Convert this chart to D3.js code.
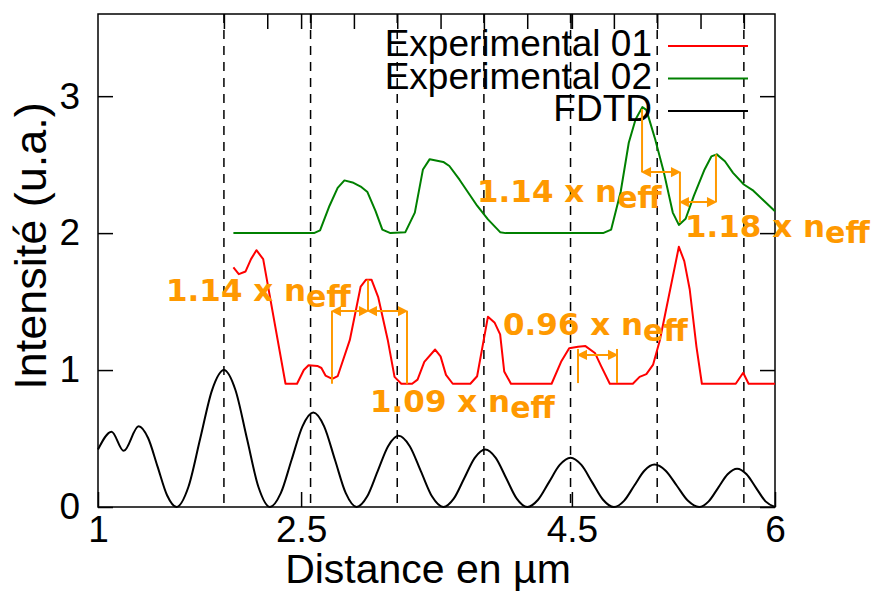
<!DOCTYPE html>
<html><head><meta charset="utf-8">
<script src="https://cdn.jsdelivr.net/npm/d3@7"></script>
<style>body{margin:0;background:#fff}</style>
</head><body>
<svg id="c" width="879" height="592"></svg>
<script>
// ---- data ----
const fdtdX = [1.00,1.10,1.19,1.30,1.37,1.44,1.51,1.58,1.6675,1.755,1.8425,1.93,2.015,2.10,2.185,2.27,2.35,2.43,2.51,2.59,2.67,2.75,2.83,2.91,2.9875,3.065,3.1425,3.22,3.3025,3.385,3.4675,3.55,3.6275,3.705,3.7825,3.86,3.9375,4.015,4.0925,4.17,4.25,4.33,4.41,4.49,4.57,4.65,4.73,4.81,4.885,4.96,5.035,5.11,5.1925,5.275,5.3575,5.44,5.51,5.58,5.65,5.72,5.79,5.86,5.93,6.00];
const fdtdY = [0.42,0.55,0.41,0.59,0.504,0.295,0.086,0.00,0.146,0.50,0.854,1.00,0.854,0.50,0.146,0.00,0.101,0.345,0.589,0.69,0.589,0.345,0.101,0.00,0.076,0.26,0.444,0.52,0.444,0.26,0.076,0.00,0.061,0.21,0.359,0.42,0.359,0.21,0.061,0.00,0.053,0.18,0.307,0.36,0.307,0.18,0.053,0.00,0.045,0.155,0.265,0.31,0.265,0.155,0.045,0.00,0.041,0.14,0.239,0.28,0.239,0.14,0.041,0.00];

const exp1X = [2.00,2.04,2.09,2.13,2.17,2.22,2.385,2.47,2.52,2.555,2.62,2.65,2.68,2.73,2.77,2.86,2.94,2.98,3.02,3.07,3.14,3.19,3.24,3.32,3.36,3.41,3.49,3.53,3.57,3.62,3.75,3.80,3.88,3.93,3.97,4.00,4.05,4.35,4.42,4.48,4.545,4.60,4.67,4.715,4.78,4.95,5.00,5.05,5.10,5.15,5.29,5.33,5.37,5.42,5.46,5.71,5.765,5.805,6.00];
const exp1Y = [1.75,1.70,1.72,1.81,1.875,1.81,0.90,0.90,1.00,1.035,1.03,1.015,0.96,0.935,0.955,1.22,1.61,1.66,1.66,1.53,1.22,0.95,0.90,0.90,0.93,1.06,1.15,1.10,0.965,0.90,0.90,0.955,1.39,1.345,1.26,0.99,0.90,0.90,1.06,1.16,1.17,1.175,1.125,1.03,0.90,0.90,0.95,0.97,1.04,1.22,1.90,1.795,1.59,1.17,0.90,0.90,0.98,0.90,0.90];

const exp2X = [2.00,2.595,2.64,2.71,2.77,2.82,2.88,2.94,2.99,3.05,3.10,3.16,3.27,3.34,3.40,3.45,3.55,3.595,3.67,3.80,3.88,3.97,4.01,4.73,4.79,4.86,4.92,4.97,5.02,5.05,5.115,5.18,5.245,5.29,5.34,5.40,5.48,5.53,5.57,5.63,5.69,5.77,5.84,5.92,6.00];
const exp2Y = [2.00,2.00,2.02,2.20,2.33,2.385,2.37,2.34,2.30,2.16,2.026,2.00,2.007,2.15,2.465,2.54,2.52,2.49,2.39,2.20,2.10,2.007,2.00,2.00,2.026,2.30,2.66,2.83,2.92,2.90,2.685,2.44,2.15,2.06,2.105,2.27,2.465,2.56,2.575,2.525,2.44,2.355,2.31,2.235,2.16];

const seriesNames = ["Experimental 01","Experimental 02","FDTD"];
const seriesColors = ["#ff0000","#008000","#000000"];

const xTickLabels = [1, 2.5, 4.5, 6];
const yTickLabels = [0, 1, 2, 3];
const topTicks = [1.93,2.25,2.57,2.89,3.21,3.53,3.85,4.17,4.49,4.81,5.13,5.45,5.77];
const dashedX = [1.93,2.57,3.21,3.85,4.49,5.13,5.77];

// annotations (data coordinates)
const annoText = ["1.14 x n","1.18 x n","1.14 x n","1.09 x n","0.96 x n"];
const annoX = [3.799,5.335,1.502,3.009,3.991];
const annoY = [2.224,1.975,1.507,0.695,1.258];
const vSegX  = [5.018,5.298,5.564,2.728,2.994,3.282,4.545,4.833];
const vSegY1 = [2.905,2.446,2.575,1.431,1.66,1.431,1.154,1.154];
const vSegY2 = [2.446,2.077,2.227,0.90,1.431,0.90,0.905,0.905];
const arrX1 = [5.018,5.298,2.728,2.994,4.545];
const arrX2 = [5.298,5.564,2.994,3.282,4.833];
const arrY  = [2.446,2.227,1.431,1.431,1.11];

// ---- chart ----
const svg = d3.select("#c");
const L=98, R=775, T=14, B=507;
const x = d3.scaleLinear().domain([1,6]).range([L,R]);
const y = d3.scaleLinear().domain([0,3.6]).range([B,T]);
const font = "'Liberation Sans', Arial, sans-serif";
const orange = "#ff9900";

// dashed lines
svg.append("g").selectAll("line").data(dashedX).join("line")
  .attr("x1",d=>x(d)).attr("x2",d=>x(d)).attr("y1",T).attr("y2",B)
  .attr("stroke","#000").attr("stroke-width",1.5).attr("stroke-dasharray","9,7");

// axes
const tickLen = 15;
const xAxisB = d3.axisBottom(x).tickValues(xTickLabels).tickSize(-tickLen).tickPadding(9).tickFormat(d3.format("~g"));
const gB = svg.append("g").attr("transform",`translate(0,${B})`).call(xAxisB);
const xAxisT = d3.axisTop(x).tickValues(topTicks.concat([2.5,4.5])).tickSize(-tickLen).tickFormat("");
const gT = svg.append("g").attr("transform",`translate(0,${T})`).call(xAxisT);
const yAxisL = d3.axisLeft(y).tickValues(yTickLabels).tickSize(-tickLen).tickPadding(18).tickFormat(d3.format("d"));
const gL = svg.append("g").attr("transform",`translate(${L},0)`).call(yAxisL);
const yAxisR = d3.axisRight(y).tickValues(yTickLabels).tickSize(-tickLen).tickFormat("");
const gR = svg.append("g").attr("transform",`translate(${R},0)`).call(yAxisR);
[gB,gT,gL,gR].forEach(g=>{
  g.select(".domain").remove();
  g.selectAll(".tick line").attr("stroke","#000").attr("stroke-width",1.5);
  g.selectAll("text").attr("font-family",font).attr("font-size",37).attr("fill","#000");
});
gB.selectAll("text").attr("dy","0.71em");

// border
svg.append("rect").attr("x",L).attr("y",T).attr("width",R-L).attr("height",B-T)
  .attr("fill","none").attr("stroke","#000").attr("stroke-width",1.5);

// curves
const lineLin = d3.line().x(d=>x(d[0])).y(d=>y(d[1]));
const lineSmooth = d3.line().x(d=>x(d[0])).y(d=>y(d[1])).curve(d3.curveMonotoneX);
svg.append("path").datum(d3.zip(fdtdX,fdtdY)).attr("d",lineSmooth)
  .attr("fill","none").attr("stroke",seriesColors[2]).attr("stroke-width",2);
svg.append("path").datum(d3.zip(exp1X,exp1Y)).attr("d",lineLin)
  .attr("fill","none").attr("stroke",seriesColors[0]).attr("stroke-width",2).attr("stroke-linejoin","round");
svg.append("path").datum(d3.zip(exp2X,exp2Y)).attr("d",lineLin)
  .attr("fill","none").attr("stroke",seriesColors[1]).attr("stroke-width",2).attr("stroke-linejoin","round");

// legend
const lg = svg.append("g");
seriesNames.forEach((n,i)=>{
  const ly = 46 + i*32.5;
  lg.append("line").attr("x1",668).attr("x2",748).attr("y1",ly).attr("y2",ly)
    .attr("stroke",seriesColors[i]).attr("stroke-width",2);
  lg.append("text").attr("x",652).attr("y",ly+10).attr("text-anchor","end")
    .attr("font-family",font).attr("font-size",37).text(n);
});

// orange annotations
const ag = svg.append("g").attr("stroke",orange).attr("stroke-width",2);
vSegX.forEach((vx,i)=>{
  ag.append("line").attr("x1",x(vx)).attr("x2",x(vx)).attr("y1",y(vSegY1[i])).attr("y2",y(vSegY2[i]));
});
arrX1.forEach((ax,i)=>{
  const x1=x(ax)+1, x2=x(arrX2[i])-1, yy=y(arrY[i]);
  ag.append("line").attr("x1",x1).attr("x2",x2).attr("y1",yy).attr("y2",yy);
  ag.append("path").attr("fill",orange)
    .attr("d",`M${x1},${yy} l7,-3.5 l0,7 Z M${x2},${yy} l-7,-3.5 l0,7 Z`);
});
annoText.forEach((t,i)=>{
  const tx = svg.append("text").attr("x",x(annoX[i])).attr("y",y(annoY[i]))
    .attr("font-family","'DejaVu Sans', sans-serif").attr("font-weight","bold")
    .attr("font-size",31).attr("fill",orange);
  tx.append("tspan").text(t);
  tx.append("tspan").attr("dy",6).attr("font-size",30).text("eff");
});

// axis titles
svg.append("text").attr("x",428).attr("y",583).attr("text-anchor","middle")
  .attr("font-family",font).attr("font-size",41).text("Distance en µm");
svg.append("text").attr("transform","translate(46,246) rotate(-90)").attr("text-anchor","middle")
  .attr("font-family",font).attr("font-size",45).text("Intensité (u.a.)");
</script>
</body></html>
